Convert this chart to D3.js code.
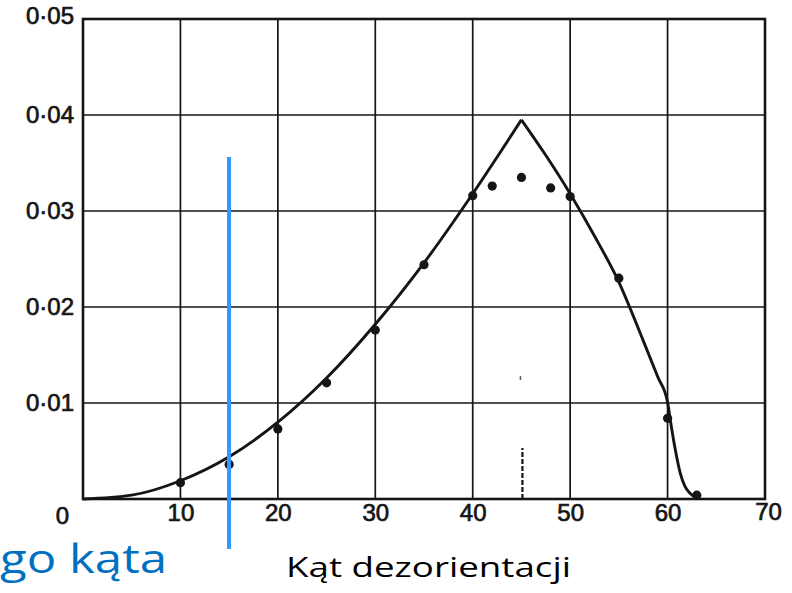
<!DOCTYPE html>
<html>
<head>
<meta charset="utf-8">
<script src="https://cdn.jsdelivr.net/npm/d3@7"></script>
<style>
  html, body { margin: 0; padding: 0; background: #fff; }
  svg { display: block; }
</style>
</head>
<body>
<svg id="chart" width="792" height="593"></svg>
<script>
// Misorientation angle distribution: theoretical curve and measured points
const xTicks = [0, 10, 20, 30, 40, 50, 60, 70];
const yTicks = [0.01, 0.02, 0.03, 0.04, 0.05];

// theoretical curve, rising branch (0–45°)
const riseAngle = [0, 5, 10, 15, 20, 25, 30, 35, 40, 45];
const riseValue = [0, 0.0004, 0.0019, 0.0044, 0.0080, 0.0126, 0.0182, 0.0246, 0.0318, 0.0395];
// theoretical curve, falling branch (45–63°)
const fallAngle = [45, 47.5, 50, 52.5, 55, 57.5, 59, 60, 60.3, 60.8, 61.3, 61.8, 62.3, 63];
const fallValue = [0.0395, 0.0358, 0.0318, 0.0274, 0.0226, 0.0165, 0.0127, 0.0101, 0.0081, 0.0051, 0.0027, 0.0013, 0.0006, 0.0001];

// measured points
const pointAngle = [10, 15, 20, 25, 30, 35, 40, 42, 45, 48, 50, 55, 60, 63];
const pointValue = [0.0017, 0.0036, 0.0073, 0.0121, 0.0176, 0.0244, 0.0316, 0.0326, 0.0335, 0.0324, 0.0315, 0.0230, 0.0084, 0.0004];

const markerAngle = 45;      // dashed marker at 45°
const markerTop = 0.0053;

const svg = d3.select("#chart");
const x = d3.scaleLinear().domain([0, 70]).range([83, 765]);
const y = d3.scaleLinear().domain([0, 0.05]).range([499, 19]);
const ink = "#151515";

// grid lines
const grid = svg.append("g");
grid.selectAll("line.v").data(xTicks.slice(1, -1)).join("line")
  .attr("x1", d => x(d)).attr("x2", d => x(d))
  .attr("y1", y(0)).attr("y2", y(0.05))
  .attr("stroke", ink).attr("stroke-width", 1.7);
grid.selectAll("line.h").data(yTicks.slice(0, -1)).join("line")
  .attr("x1", x(0)).attr("x2", x(70))
  .attr("y1", d => y(d)).attr("y2", d => y(d))
  .attr("stroke", ink).attr("stroke-width", 1.7);

// frame
svg.append("rect")
  .attr("x", x(0)).attr("y", y(0.05))
  .attr("width", x(70) - x(0)).attr("height", y(0) - y(0.05))
  .attr("fill", "none").attr("stroke", ink).attr("stroke-width", 2.6);

// axes (labels only; grid drawn above)
const fmtY = d => d3.format(".2f")(d).replace(".", "·");
const yAxis = svg.append("g").attr("transform", `translate(${x(0) - 8},0)`)
  .call(d3.axisLeft(y).tickValues(yTicks).tickSize(0).tickPadding(1).tickFormat(fmtY));
const xAxis = svg.append("g").attr("transform", `translate(0,${y(0) + 1})`)
  .call(d3.axisBottom(x).tickValues(xTicks).tickSize(0).tickPadding(4).tickFormat(d3.format("d")));
[yAxis, xAxis].forEach(g => {
  g.select(".domain").remove();
  g.selectAll("text")
    .attr("fill", ink)
    .attr("stroke", ink).attr("stroke-width", 0.7)
    .style("font-family", "'Liberation Sans', Arial, sans-serif")
    .style("font-size", "24px");
});
yAxis.selectAll(".tick").filter(d => d === 0.05).select("text").attr("dy", "0.2em");
xAxis.selectAll(".tick").filter(d => d === 0).select("text").attr("dx", -21).attr("dy", "0.85em");
xAxis.selectAll(".tick").filter(d => d === 70).select("text").attr("dx", 3).attr("dy", "0.65em");

// curve
const line = d3.line().x(d => x(d[0])).y(d => y(d[1])).curve(d3.curveMonotoneX);
[[riseAngle, riseValue], [fallAngle, fallValue]].forEach(([a, v]) => {
  svg.append("path")
    .datum(a.map((t, i) => [t, v[i]]))
    .attr("d", line)
    .attr("fill", "none").attr("stroke", ink)
    .attr("stroke-width", 2.9).attr("stroke-linejoin", "round");
});

// dashed marker
svg.append("line")
  .attr("x1", x(markerAngle) + 1).attr("x2", x(markerAngle) + 1)
  .attr("y1", y(0)).attr("y2", y(markerTop))
  .attr("stroke", ink).attr("stroke-width", 2.2).attr("stroke-dasharray", "5,2");
svg.append("line")
  .attr("x1", x(markerAngle) - 1).attr("x2", x(markerAngle) - 1)
  .attr("y1", y(0.0124)).attr("y2", y(0.0128))
  .attr("stroke", "#555").attr("stroke-width", 1.5);

// measured points
svg.selectAll("circle.pt").data(pointAngle.map((t, i) => [t, pointValue[i]])).join("circle")
  .attr("cx", d => x(d[0])).attr("cy", d => y(d[1])).attr("r", 4.6).attr("fill", ink);

// blue divider
svg.append("line")
  .attr("x1", 229).attr("x2", 229).attr("y1", 157).attr("y2", 549)
  .attr("stroke", "#3399ff").attr("stroke-width", 4);

// captions
svg.append("text").attr("x", 0).attr("y", 573)
  .attr("textLength", 167).attr("lengthAdjust", "spacingAndGlyphs")
  .attr("fill", "#0070c0")
  .style("font-family", "'Open Sans', sans-serif").style("font-size", "40px")
  .text("go kąta");
svg.append("text").attr("x", 286).attr("y", 577)
  .attr("textLength", 285).attr("lengthAdjust", "spacingAndGlyphs")
  .attr("fill", "#000")
  .style("font-family", "'Open Sans', sans-serif").style("font-size", "27px")
  .text("Kąt dezorientacji");
</script>
</body>
</html>
